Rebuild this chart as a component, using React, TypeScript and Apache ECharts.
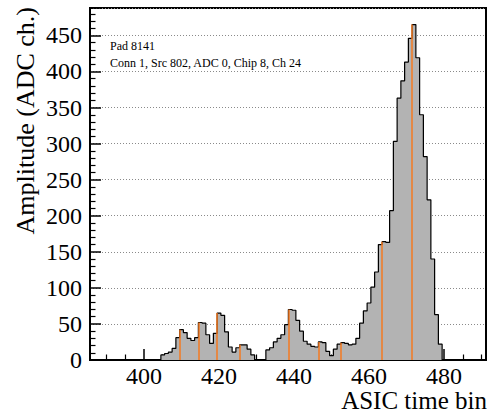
import React, { useEffect, useRef } from "react";
import * as echarts from "echarts";

// ASIC time bins (bin centres) and the amplitude in each bin
const timeBins = [
  405, 406, 407, 408, 409, 410, 411, 412, 413, 414, 415, 416, 417, 418, 419,
  420, 421, 422, 423, 424, 425, 426, 427, 428, 429, 430, 431, 432, 433, 434,
  435, 436, 437, 438, 439, 440, 441, 442, 443, 444, 445, 446, 447, 448, 449,
  450, 451, 452, 453, 454, 455, 456, 457, 458, 459, 460, 461, 462, 463, 464,
  465, 466, 467, 468, 469, 470, 471, 472, 473, 474, 475, 476, 477, 478, 479,
];
const amplitudes = [
  7, 9, 11, 16, 31, 42, 38, 30, 27, 31, 52, 51, 35, 23, 37,
  65, 62, 39, 18, 11, 17, 21, 21, 15, 7, 0, 0, 0, 14, 17,
  25, 30, 35, 49, 70, 69, 55, 40, 26, 22, 19, 18, 25, 24, 12,
  6, 15, 22, 24, 23, 21, 22, 30, 51, 68, 79, 101, 122, 160, 164,
  163, 207, 303, 363, 387, 413, 446, 465, 419, 340, 282, 222, 140, 63, 22,
];
// bins flagged as peaks (orange markers)
const peakBins = [410, 415, 420, 426, 439, 447, 453, 464, 472];

const xTitle = "ASIC time bin";
const yTitle = "Amplitude (ADC ch.)";
const infoLines = ["Pad 8141", "Conn 1, Src 802, ADC 0, Chip 8, Ch 24"];

const SERIF = "Liberation Serif";

export default function App() {
  const ref = useRef<HTMLDivElement>(null);

  useEffect(() => {
    if (!ref.current) return;
    const chart = echarts.init(ref.current, undefined, { renderer: "svg" });

    // step outline: left edge of every bin, then close at right edge
    const stepData: number[][] = [[timeBins[0] - 0.5, 0]];
    timeBins.forEach((t, i) => stepData.push([t - 0.5, amplitudes[i]]));
    stepData.push([timeBins[timeBins.length - 1] + 0.5, 0]);

    const peakLines = peakBins.map((b) => {
      const v = amplitudes[timeBins.indexOf(b)];
      return [{ coord: [b - 0.5, 0] }, { coord: [b - 0.5, v] }];
    });

    const labelStyle = {
      show: true,
      fontFamily: SERIF,
      fontSize: 24,
      fontWeight: "normal",
      lineHeight: 20,
      color: "#000",
    };

    const option: any = {
      animation: false,
      textStyle: { fontFamily: SERIF },
      grid: {
        left: 90,
        top: 8,
        width: 396,
        height: 352,
        show: true,
        borderColor: "#000",
        borderWidth: 2,
        backgroundColor: "transparent",
        containLabel: false,
      },
      xAxis: {
        type: "value",
        min: 385.6,
        max: 491.2,
        splitNumber: 5,
        axisLine: { show: true, onZero: false, lineStyle: { color: "#000", width: 2 } },
        axisTick: { show: true, inside: true, length: 11, lineStyle: { color: "#000", width: 1.5 } },
        minorTick: { show: true, splitNumber: 4, length: 5.5, lineStyle: { color: "#000", width: 1.2 } },
        axisLabel: { ...labelStyle, margin: 6, showMinLabel: false, showMaxLabel: false },
        splitLine: { show: false },
        minorSplitLine: { show: false },
      },
      yAxis: {
        type: "value",
        min: 0,
        max: 488,
        interval: 50,
        axisLine: { show: true, onZero: false, lineStyle: { color: "#000", width: 2 } },
        axisTick: { show: true, inside: true, length: 11, lineStyle: { color: "#000", width: 1.5 } },
        minorTick: { show: true, splitNumber: 5, length: 5.5, lineStyle: { color: "#000", width: 1.2 } },
        axisLabel: { ...labelStyle, margin: 8, showMaxLabel: false },
        splitLine: { show: true, lineStyle: { color: "#8a8a8a", width: 1, type: [1, 2] } },
      },
      series: [
        {
          type: "line",
          data: stepData,
          step: "end",
          symbol: "none",
          lineStyle: { color: "#000", width: 1.2 },
          areaStyle: { color: "#b3b3b3", opacity: 1 },
          silent: true,
          markLine: {
            silent: true,
            symbol: ["none", "none"],
            label: { show: false },
            lineStyle: { color: "#f47a20", width: 1.5, type: "solid" },
            data: peakLines,
          },
        },
      ],
      graphic: [
        {
          type: "text",
          x: 25,
          y: 7,
          rotation: Math.PI / 2,
          style: {
            text: yTitle,
            fontFamily: SERIF,
            fontSize: 26,
            fill: "#000",
            align: "right",
            verticalAlign: "middle",
            textAlign: "right",
            textVerticalAlign: "middle",
          },
        },
        {
          type: "text",
          x: 487,
          y: 400,
          style: {
            text: xTitle,
            fontFamily: SERIF,
            fontSize: 25,
            lineHeight: 20,
            fill: "#000",
            align: "right",
            verticalAlign: "middle",
            textAlign: "right",
            textVerticalAlign: "middle",
          },
        },
        ...infoLines.map((line, i) => ({
          type: "text",
          x: 110,
          y: 46 + i * 17,
          style: {
            text: line,
            fontFamily: SERIF,
            fontSize: 12,
            fill: "#000",
            align: "left",
            verticalAlign: "middle",
            textAlign: "left",
            textVerticalAlign: "middle",
          },
        })),
      ],
    };

    chart.setOption(option);
    return () => chart.dispose();
  }, []);

  return (
    <div
      ref={ref}
      style={{ position: "fixed", left: 0, top: 0, width: 493, height: 412, background: "#fff" }}
    />
  );
}
